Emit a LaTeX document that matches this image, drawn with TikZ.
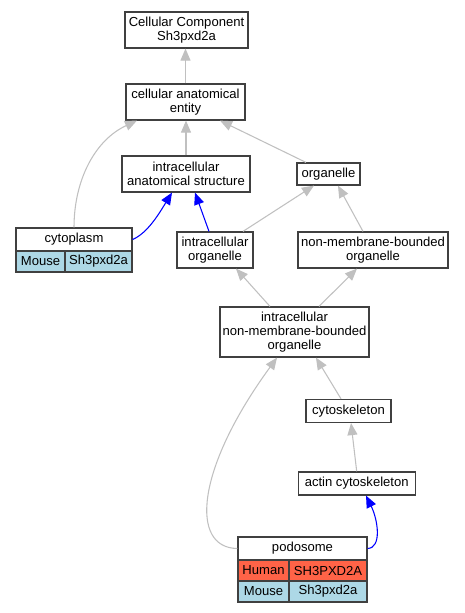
\documentclass[tikz,border=0pt]{standalone}
\usepackage{fontspec}
\setmainfont{Liberation Sans}
\usetikzlibrary{arrows.meta}
\definecolor{edgegray}{RGB}{192,192,192}
\definecolor{boxgray}{RGB}{64,64,64}
\definecolor{humanred}{RGB}{255,99,71}
\definecolor{mouseblue}{RGB}{173,216,230}
\tikzset{
  term/.style={draw=boxgray, line width=0.9pt, fill=white, inner sep=0pt, align=center,
    font=\fontsize{9.8}{10.3}\selectfont},
  cell/.style={term, anchor=center},
  isa/.style={draw=edgegray, line width=0.8pt, -{Triangle[length=9pt,width=7.5pt]}},
  partof/.style={draw=blue, line width=0.8pt, -{Triangle[length=9pt,width=7.5pt]}},
}
\begin{document}
\begin{tikzpicture}[x=0.75pt, y=-0.75pt]
\useasboundingbox (0,0) rectangle (464,613);
% terms
\node[term, minimum width=123*0.75pt, minimum height=36*0.75pt] (cc) at (186.5,30) {Cellular Component\\Sh3pxd2a};
\node[term, minimum width=119*0.75pt, minimum height=36*0.75pt] (cae) at (185.5,102) {cellular anatomical\\entity};
\node[term, minimum width=128*0.75pt, minimum height=36*0.75pt] (ias) at (186,174) {intracellular\\anatomical structure};
\node[term, minimum width=63*0.75pt, minimum height=22*0.75pt] (org) at (328.5,174) {organelle};
\node[term, minimum width=76*0.75pt, minimum height=36*0.75pt] (io) at (215,250) {intracellular\\organelle};
\node[term, minimum width=150*0.75pt, minimum height=36*0.75pt] (nmbo) at (373,250) {non-membrane-bounded\\organelle};
\node[term, minimum width=149*0.75pt, minimum height=50*0.75pt] (inmbo) at (294.5,332) {intracellular\\non-membrane-bounded\\organelle};
\node[term, minimum width=85*0.75pt, minimum height=23*0.75pt] (cytsk) at (348.5,411) {cytoskeleton};
\node[term, minimum width=117*0.75pt, minimum height=23*0.75pt] (actin) at (356.7,483.5) {actin cytoskeleton};
% cytoplasm table
\node[cell, minimum width=116*0.75pt, minimum height=23*0.75pt] (cyt) at (74,239.5) {cytoplasm};
\node[cell, fill=mouseblue, minimum width=49*0.75pt, minimum height=21*0.75pt] (cytm1) at (40.5,261.5) {Mouse};
\node[cell, fill=mouseblue, minimum width=67*0.75pt, minimum height=21*0.75pt] (cytm2) at (98.5,261.5) {Sh3pxd2a};
% podosome table
\node[cell, minimum width=129*0.75pt, minimum height=23*0.75pt] (pod) at (302.5,548.5) {podosome};
\node[cell, fill=humanred, minimum width=51*0.75pt, minimum height=21*0.75pt] (podh1) at (263.5,570.5) {Human};
\node[cell, fill=humanred, minimum width=78*0.75pt, minimum height=21*0.75pt] (podh2) at (328,570.5) {SH3PXD2A};
\node[cell, fill=mouseblue, minimum width=51*0.75pt, minimum height=21*0.75pt] (podm1) at (263.5,591.5) {Mouse};
\node[cell, fill=mouseblue, minimum width=78*0.75pt, minimum height=21*0.75pt] (podm2) at (328,591.5) {Sh3pxd2a};
% edges
\draw[isa] (cae.north) -- (cae.north |- cc.south);
\draw[isa] (ias.north) -- (ias.north |- cae.south);
\draw[isa] ([xshift=-16.9pt]org.north) -- ([xshift=25.9pt]cae.south);
\draw[isa] (cyt.north) .. controls (74,180) and (95,140) .. ([xshift=-36.4pt]cae.south);
\draw[partof] (cyt.east) .. controls (148,233) and (160,212) .. ([xshift=-10.5pt]ias.south);
\draw[partof] ([xshift=-4.5pt]io.north) -- ([xshift=6.75pt]ias.south);
\draw[isa] ([xshift=21pt]io.north) -- ([xshift=-10.9pt]org.south);
\draw[isa] ([xshift=-7.5pt]nmbo.north) -- ([xshift=7.1pt]org.south);
\draw[isa] ([xshift=-18.4pt]inmbo.north) -- ([xshift=15.75pt]io.south);
\draw[isa] ([xshift=18.4pt]inmbo.north) -- ([xshift=-12pt]nmbo.south);
\draw[isa] ([xshift=-5.6pt]cytsk.north) -- ([xshift=16.1pt]inmbo.south);
\draw[isa] (actin.north) -- ([xshift=1.9pt]cytsk.south);
\draw[isa] (pod.west) .. controls (190,548) and (195,470) .. ([xshift=-13.1pt]inmbo.south);
\draw[partof] (pod.east) .. controls (382,548) and (378,520) .. ([xshift=7pt]actin.south);
\end{tikzpicture}
\end{document}
